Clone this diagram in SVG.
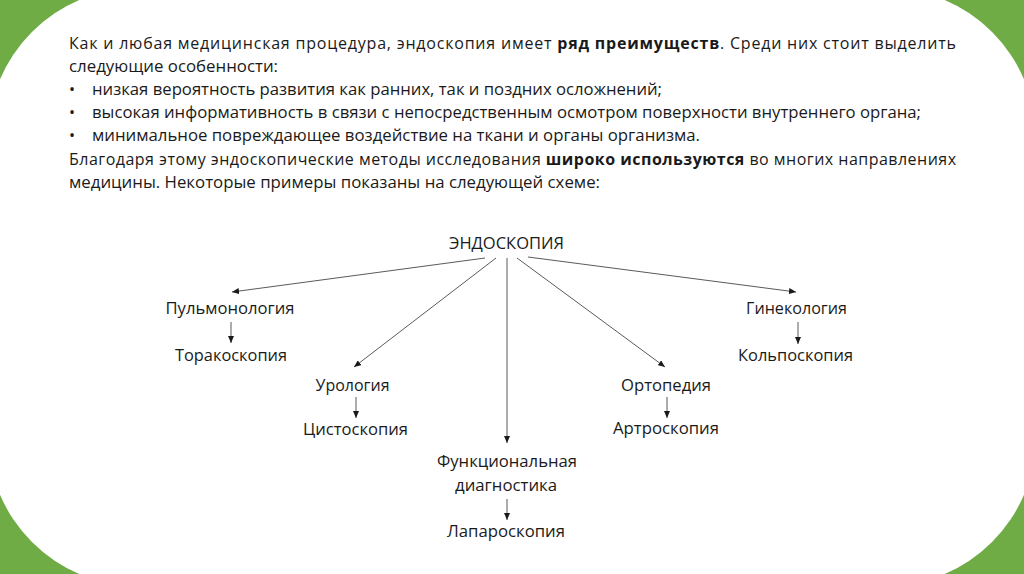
<svg xmlns="http://www.w3.org/2000/svg" width="1024" height="574" viewBox="0 0 1024 574">
<defs>
<marker id="ah" markerWidth="7" markerHeight="6" refX="7" refY="3" orient="auto" markerUnits="userSpaceOnUse">
<path d="M0,0 L7,3 L0,6 z" fill="#1a1a1a"/>
</marker>
<style>
.t{font-family:"Open Sans","Noto Sans","DejaVu Sans",sans-serif;font-size:16px;fill:#1a1a1a}
.b{font-weight:bold}
.n{font-family:"Open Sans","Noto Sans","DejaVu Sans",sans-serif;font-size:17px;fill:#1a1a1a;text-anchor:middle}
.c line{stroke:#5a5a5a;stroke-width:1;marker-end:url(#ah)}
</style>
</defs>
<rect x="0" y="0" width="1024" height="574" fill="#6fac46"/>
<rect x="-12" y="-12" width="1048" height="598" rx="150" ry="150" fill="#ffffff"/>

<g id="intro">
<text class="t" x="69" y="49" textLength="887" lengthAdjust="spacing">Как и любая медицинская процедура, эндоскопия имеет <tspan class="b">ряд преимуществ</tspan>. Среди них стоит выделить</text>
<text class="t" x="69" y="72" textLength="209" lengthAdjust="spacingAndGlyphs">следующие особенности:</text>
<text class="t" x="69" y="95">•</text>
<text class="t" x="92" y="95" textLength="570" lengthAdjust="spacingAndGlyphs">низкая вероятность развития как ранних, так и поздних осложнений;</text>
<text class="t" x="69" y="118">•</text>
<text class="t" x="92" y="118" textLength="829" lengthAdjust="spacingAndGlyphs">высокая информативность в связи с непосредственным осмотром поверхности внутреннего органа;</text>
<text class="t" x="69" y="141">•</text>
<text class="t" x="92" y="141" textLength="608" lengthAdjust="spacingAndGlyphs">минимальное повреждающее воздействие на ткани и органы организма.</text>
<text class="t" x="69" y="165" textLength="887" lengthAdjust="spacing">Благодаря этому эндоскопические методы исследования <tspan class="b">широко используются</tspan> во многих направлениях</text>
<text class="t" x="69" y="188" textLength="531" lengthAdjust="spacingAndGlyphs">медицины. Некоторые примеры показаны на следующей схеме:</text>
</g>

<g id="endoscopy"><text class="n" x="506.5" y="249" textLength="115" lengthAdjust="spacingAndGlyphs">ЭНДОСКОПИЯ</text></g>
<g id="pulmonology"><text class="n" x="230" y="314" textLength="129" lengthAdjust="spacingAndGlyphs">Пульмонология</text></g>
<g id="thoracoscopy"><text class="n" x="231" y="361" textLength="112" lengthAdjust="spacingAndGlyphs">Торакоскопия</text></g>
<g id="urology"><text class="n" x="352.5" y="391" textLength="74" lengthAdjust="spacingAndGlyphs">Урология</text></g>
<g id="cystoscopy"><text class="n" x="355.5" y="435" textLength="105" lengthAdjust="spacingAndGlyphs">Цистоскопия</text></g>
<g id="functional">
<text class="n" x="507" y="467" textLength="140" lengthAdjust="spacingAndGlyphs">Функциональная</text>
<text class="n" x="506" y="491" textLength="102" lengthAdjust="spacingAndGlyphs">диагностика</text>
</g>
<g id="laparoscopy"><text class="n" x="506" y="537" textLength="118" lengthAdjust="spacingAndGlyphs">Лапароскопия</text></g>
<g id="orthopedics"><text class="n" x="666" y="391" textLength="90" lengthAdjust="spacingAndGlyphs">Ортопедия</text></g>
<g id="arthroscopy"><text class="n" x="666" y="434" textLength="106" lengthAdjust="spacingAndGlyphs">Артроскопия</text></g>
<g id="gynecology"><text class="n" x="796.5" y="314" textLength="101" lengthAdjust="spacingAndGlyphs">Гинекология</text></g>
<g id="colposcopy"><text class="n" x="795.5" y="361" textLength="115" lengthAdjust="spacingAndGlyphs">Кольпоскопия</text></g>

<g id="connectors" class="c">
<line x1="485" y1="258" x2="232" y2="292"/>
<line x1="496" y1="258" x2="354" y2="367"/>
<line x1="507" y1="258" x2="507" y2="443"/>
<line x1="517" y1="258" x2="665" y2="367"/>
<line x1="528" y1="257" x2="796" y2="292"/>
<line x1="231" y1="322" x2="231" y2="343"/>
<line x1="356" y1="397" x2="356" y2="418"/>
<line x1="507" y1="499" x2="507" y2="520"/>
<line x1="667" y1="397" x2="667" y2="418"/>
<line x1="798" y1="322" x2="798" y2="344"/>
</g>
</svg>
